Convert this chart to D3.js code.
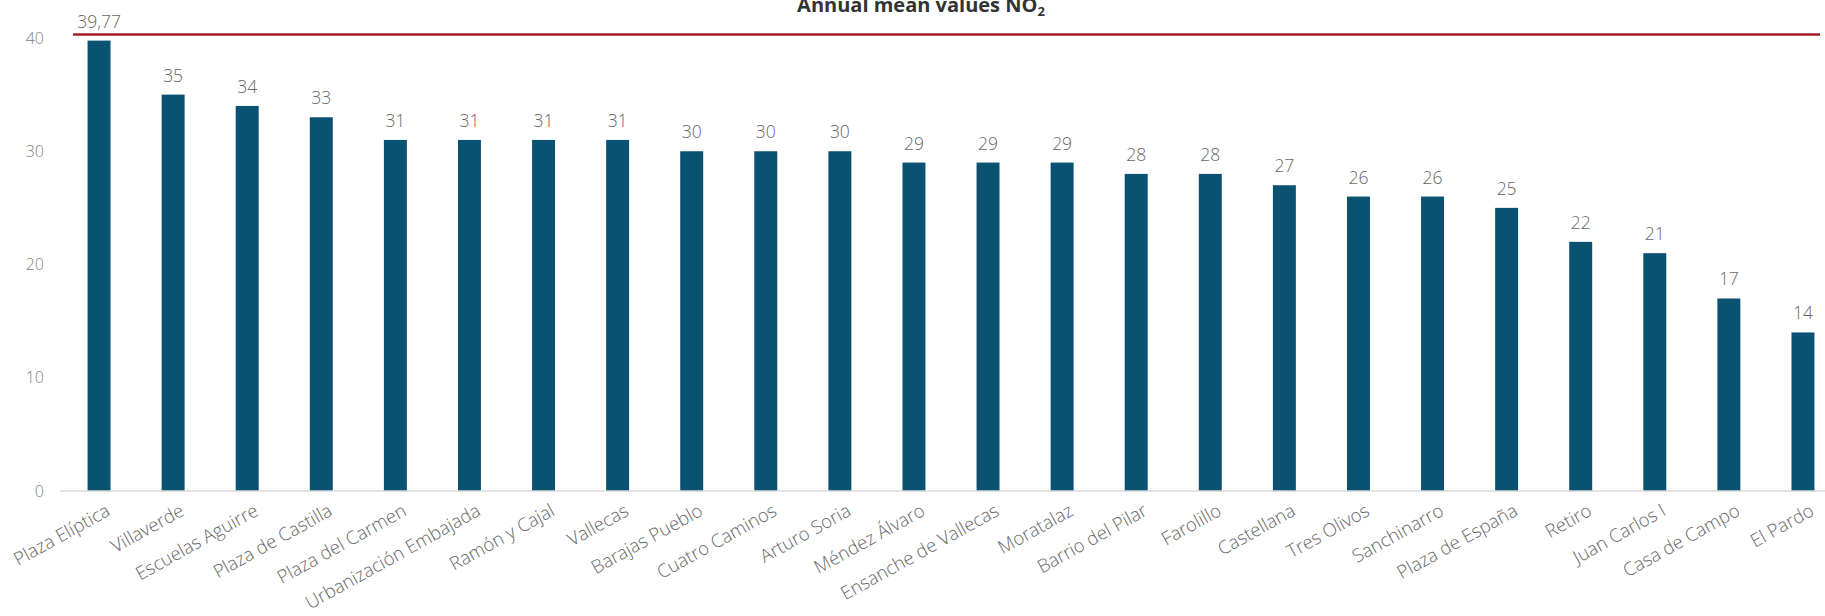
<!DOCTYPE html>
<html>
<head>
<meta charset="utf-8">
<script src="https://cdn.jsdelivr.net/npm/d3@7"></script>
<style>
  body { margin: 0; background: #fff; }
  svg { display: block; font-family: "Open Sans", sans-serif; }
</style>
</head>
<body>
<svg id="chart" width="1825" height="616"></svg>
<script>
// stations and annual mean NO2 (µg/m3)
const stations = ["Plaza Elíptica", "Villaverde", "Escuelas Aguirre", "Plaza de Castilla",
    "Plaza del Carmen", "Urbanización Embajada", "Ramón y Cajal", "Vallecas",
    "Barajas Pueblo", "Cuatro Caminos", "Arturo Soria", "Méndez Álvaro",
    "Ensanche de Vallecas", "Moratalaz", "Barrio del Pilar", "Farolillo",
    "Castellana", "Tres Olivos", "Sanchinarro", "Plaza de España",
    "Retiro", "Juan Carlos I", "Casa de Campo", "El Pardo"];
const values = [39.77, 35, 34, 33, 31, 31, 31, 31, 30, 30, 30, 29,
    29, 29, 28, 28, 27, 26, 26, 25, 22, 21, 17, 14];
const yTicks = [0, 10, 20, 30, 40];
const limitValue = 40;
const title = "Annual mean values NO";

const svg = d3.select("#chart");

const x = d3.scaleBand()
    .domain(stations)
    .range([62, 1840])
    .paddingInner(0.69)
    .paddingOuter(0.345);

const y = d3.scaleLinear()
    .domain([0, 40])
    .range([491, 38]);

// title (partly cut by the top edge, like the source)
const t = svg.append("text")
    .attr("x", 921)
    .attr("y", 12)
    .attr("text-anchor", "middle")
    .attr("font-size", 20)
    .attr("font-weight", "bold")
    .attr("fill", "#333");
t.append("tspan").text(title);
t.append("tspan").attr("font-size", 13).attr("dy", 4).text("2");

// y axis labels, no line
const yAxis = svg.append("g")
    .attr("transform", "translate(44,0)")
    .call(d3.axisLeft(y).tickValues(yTicks).tickSize(0).tickPadding(0));
yAxis.select(".domain").remove();
yAxis.selectAll("text")
    .attr("font-size", 16)
    .attr("font-weight", 300)
    .attr("font-family", "Open Sans, sans-serif")
    .attr("fill", "#808080");

// bars
svg.append("g")
    .selectAll("rect")
    .data(values)
    .join("rect")
    .attr("x", (d, i) => x(stations[i]))
    .attr("width", x.bandwidth())
    .attr("y", d => y(d))
    .attr("height", d => y(0) - y(d))
    .attr("fill", "#0a5272");

// value labels
svg.append("g")
    .selectAll("text")
    .data(values)
    .join("text")
    .attr("x", (d, i) => x(stations[i]) + x.bandwidth() / 2)
    .attr("y", d => y(d) - 13)
    .attr("text-anchor", "middle")
    .attr("font-size", 17.5)
    .attr("font-weight", 300)
    .attr("fill", "#666")
    .text(d => Number.isInteger(d) ? d : String(d).replace(".", ","));

// baseline
svg.append("line")
    .attr("x1", 60).attr("x2", 1825)
    .attr("y1", y(0)).attr("y2", y(0))
    .attr("stroke", "#d9d9d9")
    .attr("stroke-width", 1.5);

// limit line
svg.append("line")
    .attr("x1", 73).attr("x2", 1820)
    .attr("y1", y(limitValue) - 3.5).attr("y2", y(limitValue) - 3.5)
    .attr("stroke", "#a31d24")
    .attr("stroke-width", 2.5);

// category labels, rotated
const xAxis = svg.append("g")
    .attr("transform", `translate(0,${y(0)})`)
    .call(d3.axisBottom(x).tickSize(0).tickPadding(0));
xAxis.select(".domain").remove();
xAxis.selectAll("text")
    .attr("font-size", 18.5)
    .attr("font-weight", 300)
    .attr("font-family", "Open Sans, sans-serif")
    .attr("fill", "#666")
    .attr("text-anchor", "end")
    .attr("dy", "0.71em")
    .attr("transform", "translate(6,12) rotate(-29)");
</script>
</body>
</html>
